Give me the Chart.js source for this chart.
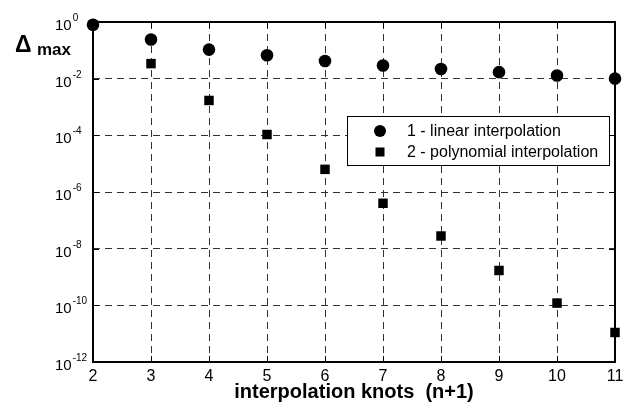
<!DOCTYPE html>
<html>
<head>
<meta charset="utf-8">
<script src="https://cdn.jsdelivr.net/npm/chart.js@4"></script>
<style>
  html, body { margin: 0; padding: 0; background: #fff; }
  #wrap { width: 630px; height: 403px; }
</style>
</head>
<body>
<div id="wrap"><canvas id="errChart" width="630" height="403"></canvas></div>
<script>
// data
const knots = [2, 3, 4, 5, 6, 7, 8, 9, 10, 11];
const linearErr = [0.8, 0.24, 0.106, 0.067, 0.042, 0.029, 0.022, 0.017, 0.013, 0.01];
const polyErr = [null, 0.034, 1.7e-3, 1.07e-4, 6.3e-6, 4e-7, 2.8e-8, 1.7e-9, 1.2e-10, 1.1e-11];
const yTickExps = [0, -2, -4, -6, -8, -10, -12];
const seriesLabels = ['1 - linear interpolation', '2 - polynomial interpolation'];
const xTitle = 'interpolation knots  (n+1)';

const FONT = '"Liberation Sans", Arial, Helvetica, sans-serif';

// frame, inner ticks, y labels, delta label and legend
const decor = {
    id: 'decor',
    beforeDatasetsDraw(chart) {
        const {ctx, chartArea: a, scales} = chart;
        ctx.save();
        ctx.strokeStyle = '#000';
        ctx.lineWidth = 1;
        ctx.beginPath();
        scales.y.ticks.forEach(t => {
            const y = Math.round(scales.y.getPixelForValue(t.value)) + 0.5;
            ctx.moveTo(a.left, y); ctx.lineTo(a.left + 6, y);
            ctx.moveTo(a.right, y); ctx.lineTo(a.right - 6, y);
        });
        scales.x.ticks.forEach(t => {
            const x = Math.round(scales.x.getPixelForValue(t.value)) + 0.5;
            ctx.moveTo(x, a.bottom); ctx.lineTo(x, a.bottom - 6);
            ctx.moveTo(x, a.top); ctx.lineTo(x, a.top + 6);
        });
        ctx.stroke();
        ctx.lineWidth = 2;
        ctx.strokeRect(a.left, a.top, a.right - a.left, a.bottom - a.top);
        ctx.restore();
    },
    afterDraw(chart) {
        const {ctx, scales} = chart;
        ctx.save();
        ctx.fillStyle = '#000';
        ctx.textAlign = 'left';
        ctx.textBaseline = 'alphabetic';
        // y tick labels as 10^n
        yTickExps.forEach(e => {
            const y = scales.y.getPixelForValue(Math.pow(10, e));
            ctx.font = '15px ' + FONT;
            ctx.fillText('10', 55, y + 8);
            const w = ctx.measureText('10').width;
            ctx.font = '10px ' + FONT;
            ctx.fillText(String(e), 55 + w + 1, y - 1);
        });
        // y axis label
        ctx.font = 'bold 23px ' + FONT;
        ctx.fillText('\u0394', 15, 52);
        ctx.font = 'bold 17px ' + FONT;
        ctx.fillText('max', 37, 55);

        // legend
        const lx = 347, ly = 116, lw = 262, lh = 49;
        ctx.fillStyle = '#fff';
        ctx.fillRect(lx, ly, lw, lh);
        ctx.strokeStyle = '#000';
        ctx.lineWidth = 1;
        ctx.strokeRect(lx + 0.5, ly + 0.5, lw, lh);
        ctx.fillStyle = '#000';
        ctx.font = '16px ' + FONT;
        ctx.textBaseline = 'middle';
        chart.data.datasets.forEach((ds, i) => {
            const cy = ly + 15 + i * 21;
            if (ds.pointStyle === 'circle') {
                ctx.beginPath();
                ctx.arc(380, cy, 6, 0, Math.PI * 2);
                ctx.fill();
            } else {
                ctx.fillRect(375.5, cy - 4.5, 9, 9);
            }
            ctx.fillText(ds.label, 407, cy + 1);
        });
        ctx.restore();
    }
};

const edgeClear = (ctx, lo, hi) => {
    const v = ctx.tick && ctx.tick.value;
    return (v === lo || v === hi) ? 'rgba(0,0,0,0)' : '#333';
};

new Chart(document.getElementById('errChart'), {
    type: 'scatter',
    data: {
        datasets: [
            {
                label: seriesLabels[0],
                data: knots.map((k, i) => ({x: k, y: linearErr[i]})),
                pointStyle: 'circle',
                pointRadius: 6.3,
                backgroundColor: '#000',
                borderWidth: 0,
                clip: false
            },
            {
                label: seriesLabels[1],
                data: knots.map((k, i) => ({x: k, y: polyErr[i]})).filter(p => p.y !== null),
                pointStyle: 'rect',
                pointRadius: 6.7,
                backgroundColor: '#000',
                borderWidth: 0,
                clip: false
            }
        ]
    },
    options: {
        responsive: false,
        animation: false,
        events: [],
        layout: { padding: { top: 22, right: 15, left: 0, bottom: 0 } },
        plugins: { legend: { display: false }, tooltip: { enabled: false } },
        scales: {
            x: {
                type: 'linear',
                min: 2,
                max: 11,
                ticks: {
                    stepSize: 1,
                    color: '#000',
                    font: { family: FONT, size: 16 },
                    padding: 5
                },
                grid: {
                    drawTicks: false,
                    lineWidth: 1,
                    color: ctx => edgeClear(ctx, 2, 11)
                },
                border: { display: false, dash: [7, 5] },
                title: {
                    display: true,
                    text: xTitle,
                    color: '#000',
                    font: { family: FONT, size: 20, weight: 'bold', lineHeight: 1.1 },
                    padding: { top: 0, bottom: 0 }
                },
                afterFit(scale) { scale.height = 41; }
            },
            y: {
                type: 'logarithmic',
                min: 1e-12,
                max: 1,
                afterBuildTicks(scale) {
                    scale.ticks = yTickExps.map(e => ({ value: Math.pow(10, e) }));
                },
                ticks: { display: false },
                grid: {
                    drawTicks: false,
                    lineWidth: 1,
                    color: ctx => edgeClear(ctx, 1, 1e-12)
                },
                border: { display: false, dash: [7, 5] },
                afterFit(scale) { scale.width = 93; }
            }
        }
    },
    plugins: [decor]
});
</script>
</body>
</html>
